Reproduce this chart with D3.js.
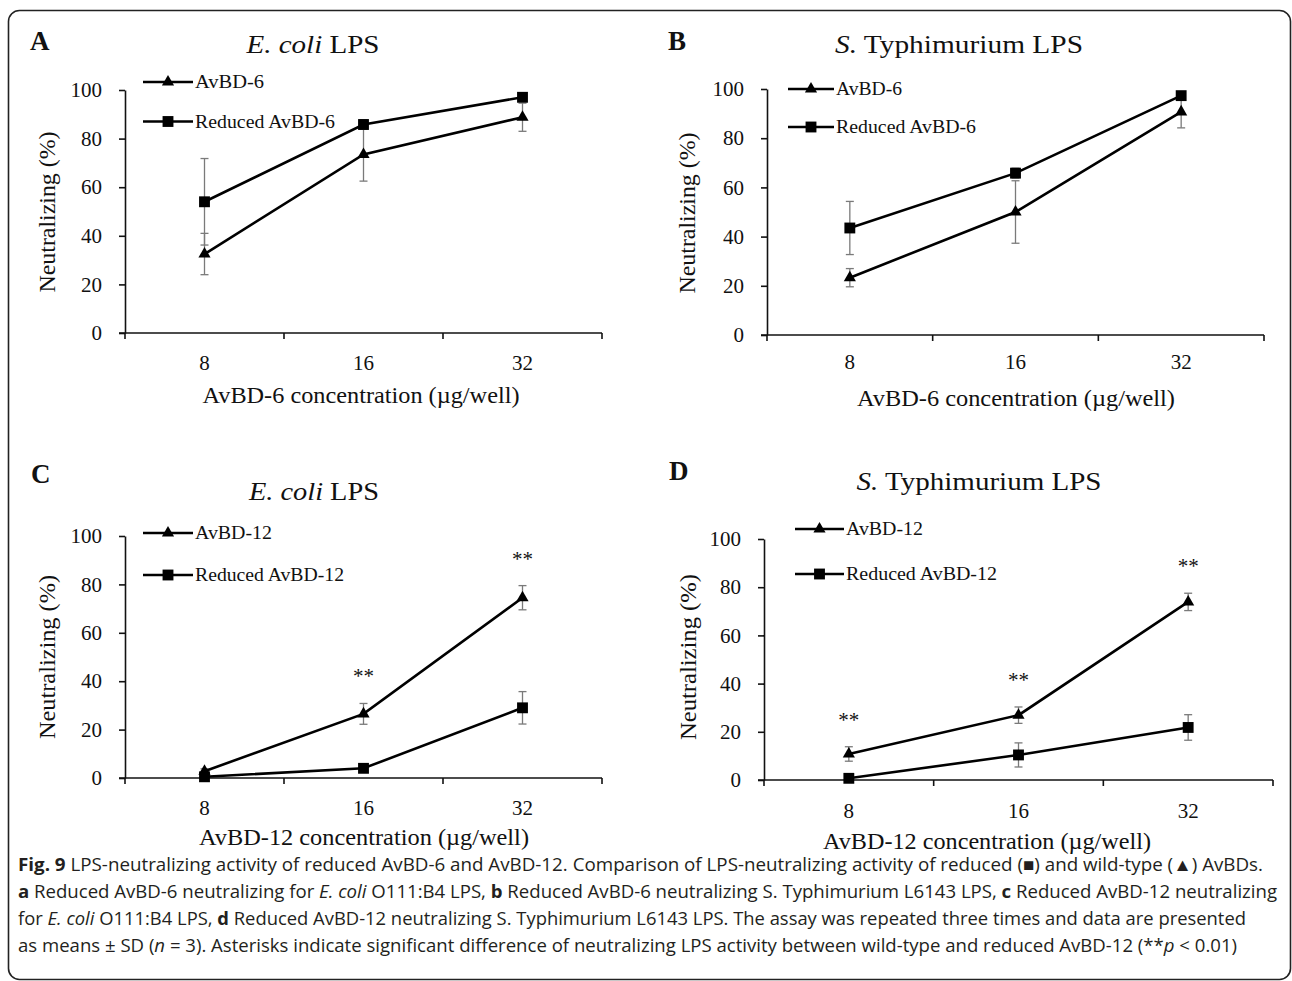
<!DOCTYPE html>
<html>
<head>
<meta charset="utf-8">
<script src="https://cdn.jsdelivr.net/npm/d3@7"></script>
<style>
  body { margin: 0; background: #fff; }
  svg { display: block; }
</style>
</head>
<body>
<script>
// x categories (µg/well) and y ticks
const concentrations = ["8", "16", "32"];
const yTicks = [0, 20, 40, 60, 80, 100];

// A: AvBD-6, E. coli LPS
const avbd6Ecoli = [32.5, 73.5, 88.8];
const avbd6EcoliSd = [8.5, 11, 5.8];
const redAvbd6Ecoli = [54, 85.8, 97];
const redAvbd6EcoliSd = [17.8, 2, 1.5];

// B: AvBD-6, S. Typhimurium LPS
const avbd6Styph = [23.3, 50, 90.7];
const avbd6StyphSd = [3.7, 12.7, 6.5];
const redAvbd6Styph = [43.5, 65.8, 97.3];
const redAvbd6StyphSd = [10.8, 2, 1.5];

// C: AvBD-12, E. coli LPS
const avbd12Ecoli = [2.8, 26.5, 74.5];
const avbd12EcoliSd = [1, 4.3, 5];
const redAvbd12Ecoli = [0.5, 4, 29];
const redAvbd12EcoliSd = [0.5, 1, 6.7];
const starsC = ["16", "32"];

// D: AvBD-12, S. Typhimurium LPS
const avbd12Styph = [10.8, 26.9, 73.9];
const avbd12StyphSd = [3, 3.4, 3.6];
const redAvbd12Styph = [0.7, 10.4, 21.8];
const redAvbd12StyphSd = [0.5, 5, 5.3];
const starsD = ["8", "16", "32"];

const serif = "'Liberation Serif', 'Times New Roman', serif";
const sans = "'Open Sans', 'Noto Sans', sans-serif";

var svg = d3.select("body").append("svg")
    .attr("width", 1292)
    .attr("height", 981);

// outer frame
svg.append("rect")
    .attr("x", 8.5).attr("y", 10.5)
    .attr("width", 1282).attr("height", 969)
    .attr("rx", 11).attr("ry", 11)
    .attr("fill", "none")
    .attr("stroke", "#222")
    .attr("stroke-width", 1.6);

function fit(sel, w) {
  sel.attr("textLength", w).attr("lengthAdjust", "spacingAndGlyphs");
}

// Panel layouts
var panels = [
  {letter: "A", lx: 30, ly: 50, tItalic: "E. coli", tRest: " LPS", tx: 313, ty: 53, tw: 133,
   x0: 125, x1: 602, yTop: 90, yBot: 333, xPad: 22,
   names: ["AvBD-6", "Reduced AvBD-6"], legX: [143, 193], legY: [82, 121.5], legW: [69, 140],
   ytX: 47, ytY: 212, ytW: 161,
   xTitle: "AvBD-6 concentration (\u00b5g/well)", xtX: 361, xtY: 403, xtW: 317,
   wild: avbd6Ecoli, wildSd: avbd6EcoliSd, red: redAvbd6Ecoli, redSd: redAvbd6EcoliSd, stars: []},
  {letter: "B", lx: 668, ly: 50, tItalic: "S.", tRest: " Typhimurium LPS", tx: 959, ty: 53, tw: 248,
   x0: 767, x1: 1264, yTop: 89, yBot: 335, xPad: 19,
   names: ["AvBD-6", "Reduced AvBD-6"], legX: [788, 834], legY: [89, 127], legW: [66, 140],
   ytX: 687, ytY: 213, ytW: 161,
   xTitle: "AvBD-6 concentration (\u00b5g/well)", xtX: 1016, xtY: 406, xtW: 318,
   wild: avbd6Styph, wildSd: avbd6StyphSd, red: redAvbd6Styph, redSd: redAvbd6StyphSd, stars: []},
  {letter: "C", lx: 31, ly: 483, tItalic: "E. coli", tRest: " LPS", tx: 314, ty: 500, tw: 130,
   x0: 125, x1: 602, yTop: 536, yBot: 778, xPad: 22,
   names: ["AvBD-12", "Reduced AvBD-12"], legX: [143, 193], legY: [533, 575], legW: [77, 149],
   ytX: 47, ytY: 657, ytW: 164,
   xTitle: "AvBD-12 concentration (\u00b5g/well)", xtX: 364, xtY: 845, xtW: 330,
   wild: avbd12Ecoli, wildSd: avbd12EcoliSd, red: redAvbd12Ecoli, redSd: redAvbd12EcoliSd, stars: starsC},
  {letter: "D", lx: 669, ly: 480, tItalic: "S.", tRest: " Typhimurium LPS", tx: 979, ty: 490, tw: 245,
   x0: 764, x1: 1273, yTop: 539, yBot: 780, xPad: 23,
   names: ["AvBD-12", "Reduced AvBD-12"], legX: [795, 844], legY: [529, 574], legW: [77, 151],
   ytX: 688, ytY: 657, ytW: 166,
   xTitle: "AvBD-12 concentration (\u00b5g/well)", xtX: 987, xtY: 849, xtW: 328,
   wild: avbd12Styph, wildSd: avbd12StyphSd, red: redAvbd12Styph, redSd: redAvbd12StyphSd, stars: starsD}
];

var triangle = d3.symbol().type(d3.symbolTriangle).size(64);
var square = d3.symbol().type(d3.symbolSquare).size(118);

function make_panel(p) {
  var g = svg.append("g");

  var x = d3.scaleBand().domain(concentrations).range([p.x0, p.x1]);
  var y = d3.scaleLinear().domain([0, 100]).range([p.yBot, p.yTop]);
  var cx = function (c) { return x(c) + x.bandwidth() / 2; };

  // panel letter
  g.append("text")
    .attr("x", p.lx).attr("y", p.ly)
    .attr("font-family", serif).attr("font-weight", "bold")
    .attr("font-size", 27).attr("fill", "#111")
    .text(p.letter);

  // title
  var t = g.append("text")
    .attr("x", p.tx).attr("y", p.ty)
    .attr("text-anchor", "middle")
    .attr("font-family", serif).attr("font-size", 26).attr("fill", "#111");
  t.append("tspan").attr("font-style", "italic").text(p.tItalic);
  t.append("tspan").text(p.tRest);
  fit(t, p.tw);

  // y axis
  g.append("g")
    .attr("transform", "translate(" + p.x0 + ",0)")
    .call(d3.axisLeft(y).tickValues(yTicks).tickSize(6).tickSizeOuter(0).tickPadding(17))
    .attr("font-family", serif).attr("font-size", 21)
    .call(function (a) {
      a.selectAll("line, path").attr("stroke", "#111").attr("stroke-width", 1.6);
      a.selectAll("text").attr("fill", "#111");
    });

  // x axis: labels at band centres, ticks at band edges
  var xa = g.append("g")
    .attr("transform", "translate(0," + p.yBot + ")")
    .call(d3.axisBottom(x).tickSize(0).tickPadding(p.xPad))
    .attr("font-family", serif).attr("font-size", 21);
  xa.select(".domain").remove();
  xa.selectAll("text").attr("fill", "#111");

  g.append("line")
    .attr("x1", p.x0 - 6).attr("x2", p.x1)
    .attr("y1", p.yBot).attr("y2", p.yBot)
    .attr("stroke", "#111").attr("stroke-width", 1.6);
  g.selectAll(".edge")
    .data(d3.range(concentrations.length + 1))
    .enter().append("line")
    .attr("x1", function (i) { return p.x0 + i * x.step(); })
    .attr("x2", function (i) { return p.x0 + i * x.step(); })
    .attr("y1", p.yBot).attr("y2", p.yBot + 6)
    .attr("stroke", "#111").attr("stroke-width", 1.6);

  // axis titles
  var yt = g.append("text")
    .attr("transform", "translate(" + p.ytX + "," + p.ytY + ") rotate(-90)")
    .attr("text-anchor", "middle").attr("dy", "0.35em")
    .attr("font-family", serif).attr("font-size", 23).attr("fill", "#111")
    .text("Neutralizing (%)");
  fit(yt, p.ytW);

  var xt = g.append("text")
    .attr("x", p.xtX).attr("y", p.xtY)
    .attr("text-anchor", "middle")
    .attr("font-family", serif).attr("font-size", 23).attr("fill", "#111")
    .text(p.xTitle);
  fit(xt, p.xtW);

  var series = [
    {vals: p.red, sd: p.redSd, sym: square},
    {vals: p.wild, sd: p.wildSd, sym: triangle}
  ];

  // error bars
  series.forEach(function (s) {
    var eb = g.append("g").attr("stroke", "#7a7a7a").attr("stroke-width", 1.3);
    s.vals.forEach(function (v, i) {
      var c = cx(concentrations[i]);
      var lo = y(Math.max(0, v - s.sd[i])), hi = y(v + s.sd[i]);
      eb.append("line").attr("x1", c).attr("x2", c).attr("y1", lo).attr("y2", hi);
      eb.append("line").attr("x1", c - 4).attr("x2", c + 4).attr("y1", lo).attr("y2", lo);
      eb.append("line").attr("x1", c - 4).attr("x2", c + 4).attr("y1", hi).attr("y2", hi);
    });
  });

  var line = d3.line()
    .x(function (d, i) { return cx(concentrations[i]); })
    .y(function (d) { return y(d); });

  series.forEach(function (s) {
    g.append("path")
      .datum(s.vals)
      .attr("d", line)
      .attr("fill", "none")
      .attr("stroke", "#000")
      .attr("stroke-width", 2.6);
    g.selectAll(null)
      .data(s.vals)
      .enter().append("path")
      .attr("d", s.sym)
      .attr("transform", function (d, i) {
        return "translate(" + cx(concentrations[i]) + "," + y(d) + ")";
      })
      .attr("fill", "#000");
  });

  // significance stars above wild-type error bar
  g.selectAll(".star")
    .data(p.stars)
    .enter().append("text")
    .attr("x", function (c) { return cx(c); })
    .attr("y", function (c) {
      var i = concentrations.indexOf(c);
      return y(p.wild[i] + p.wildSd[i] + 12) + 9;
    })
    .attr("text-anchor", "middle")
    .attr("font-family", serif).attr("font-size", 21).attr("fill", "#111")
    .text("**");

  // legend
  var legSyms = [triangle, square];
  p.names.forEach(function (name, k) {
    var ly = p.legY[k];
    g.append("line")
      .attr("x1", p.legX[0]).attr("x2", p.legX[1])
      .attr("y1", ly).attr("y2", ly)
      .attr("stroke", "#000").attr("stroke-width", 2.6);
    g.append("path")
      .attr("d", legSyms[k])
      .attr("transform", "translate(" + (p.legX[0] + p.legX[1]) / 2 + "," + ly + ")")
      .attr("fill", "#000");
    var lt = g.append("text")
      .attr("x", p.legX[1] + 2).attr("y", ly).attr("dy", "0.35em")
      .attr("font-family", serif).attr("font-size", 18).attr("fill", "#111")
      .text(name);
    fit(lt, p.legW[k]);
  });
}

panels.forEach(make_panel);

// Caption
var captionLines = [
  {w: 1245, y: 871, parts: [["b", "Fig. 9"], ["", " LPS-neutralizing activity of reduced AvBD-6 and AvBD-12. Comparison of LPS-neutralizing activity of reduced (\u25a0) and wild-type (\u25b2) AvBDs."]]},
  {w: 1259, y: 898, parts: [["b", "a"], ["", " Reduced AvBD-6 neutralizing for "], ["i", "E. coli"], ["", " O111:B4 LPS, "], ["b", "b"], ["", " Reduced AvBD-6 neutralizing S. Typhimurium L6143 LPS, "], ["b", "c"], ["", " Reduced AvBD-12 neutralizing"]]},
  {w: 1228, y: 925, parts: [["", "for "], ["i", "E. coli"], ["", " O111:B4 LPS, "], ["b", "d"], ["", " Reduced AvBD-12 neutralizing S. Typhimurium L6143 LPS. The assay was repeated three times and data are presented"]]},
  {w: 1219, y: 952, parts: [["", "as means \u00b1 SD ("], ["i", "n"], ["", " = 3). Asterisks indicate significant difference of neutralizing LPS activity between wild-type and reduced AvBD-12 (**"], ["i", "p"], ["", " < 0.01)"]]}
];

captionLines.forEach(function (ln) {
  var t = svg.append("text")
    .attr("x", 18).attr("y", ln.y)
    .attr("font-family", sans).attr("font-size", 18).attr("fill", "#231f20");
  ln.parts.forEach(function (pt) {
    var s = t.append("tspan").text(pt[1]);
    if (pt[0] === "b") s.attr("font-weight", "bold");
    if (pt[0] === "i") s.attr("font-style", "italic");
  });
  fit(t, ln.w);
});
</script>
</body>
</html>
